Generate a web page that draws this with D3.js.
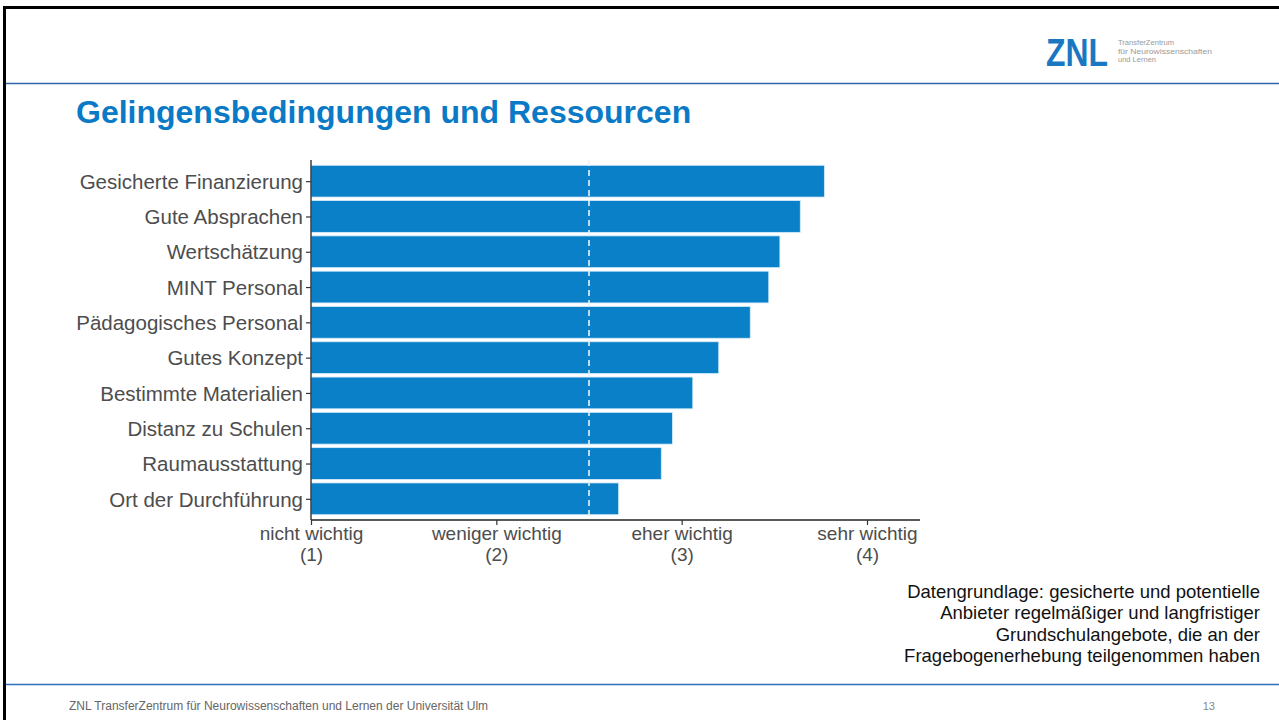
<!DOCTYPE html>
<html>
<head>
  <meta charset="utf-8">
  <title>Gelingensbedingungen</title>
  <script src="https://cdn.jsdelivr.net/npm/d3@7"></script>
  <style>
    body { margin: 0; background: #fff; }
    svg { display: block; font-family: "Liberation Sans", Arial, sans-serif; }
    .tick text { fill: #4d4d4d; }
  </style>
</head>
<body>
  <div id="slide"></div>
  <script>
    // data
    const categories = ["Gesicherte Finanzierung", "Gute Absprachen", "Wertschätzung",
      "MINT Personal", "Pädagogisches Personal", "Gutes Konzept", "Bestimmte Materialien",
      "Distanz zu Schulen", "Raumausstattung", "Ort der Durchführung"];
    const means = [3.77, 3.64, 3.53, 3.47, 3.37, 3.20, 3.06, 2.95, 2.89, 2.66];
    const tickValues = [1, 2, 3, 4];
    const tickLabels = [["nicht wichtig", "(1)"], ["weniger wichtig", "(2)"],
      ["eher wichtig", "(3)"], ["sehr wichtig", "(4)"]];
    const midpoint = 2.5;
    const noteLines = ["Datengrundlage: gesicherte und potentielle",
      "Anbieter regelmäßiger und langfristiger",
      "Grundschulangebote, die an der",
      "Fragebogenerhebung teilgenommen haben"];

    const W = 1279, H = 720;
    const blue = "#0a80c9";
    const labelSize = 20.5;

    const svg = d3.select("#slide").append("svg")
      .attr("width", W).attr("height", H);

    // slide frame + rules
    svg.append("path")
      .attr("d", `M4.5,${H} V7.5 H${W + 5}`)
      .attr("fill", "none").attr("stroke", "#000").attr("stroke-width", 3);
    svg.append("line").attr("x1", 6).attr("x2", W).attr("y1", 83.5).attr("y2", 83.5)
      .attr("stroke", "#2f64a5").attr("stroke-width", 1.3);
    svg.append("line").attr("x1", 6).attr("x2", W).attr("y1", 684.5).attr("y2", 684.5)
      .attr("stroke", "#2f70b8").attr("stroke-width", 1.3);

    // logo
    svg.append("text").attr("x", 1046).attr("y", 66)
      .attr("font-size", 38).attr("font-weight", "bold").attr("fill", "#1a78c2")
      .attr("textLength", 62).attr("lengthAdjust", "spacingAndGlyphs").text("ZNL");
    [["TransferZentrum", 56], ["für Neurowissenschaften", 94], ["und Lernen", 38]].forEach((t, i) => {
      svg.append("text").attr("x", 1118).attr("y", 45 + i * 8.5)
        .attr("font-size", 7.5).attr("fill", "#9a9a9a")
        .attr("textLength", t[1]).attr("lengthAdjust", "spacingAndGlyphs").text(t[0]);
    });

    // title
    svg.append("text").attr("x", 76).attr("y", 123)
      .attr("font-size", 32).attr("font-weight", "bold").attr("fill", "#0a7ac6")
      .text("Gelingensbedingungen und Ressourcen");

    // chart
    const x = d3.scaleLinear().domain([1, 4]).range([311, 867]);
    const xEnd = 920;
    const y = d3.scalePoint().domain(categories).range([160, 520]).padding(0.6);
    const bh = y.step() * 0.9;

    const g = svg.append("g");

    g.selectAll("rect.bar")
      .data(categories)
      .join("rect")
      .attr("class", "bar")
      .attr("x", x(1))
      .attr("y", d => y(d) - bh / 2)
      .attr("width", (d, i) => x(means[i]) - x(1))
      .attr("height", bh)
      .attr("fill", blue)
      .attr("stroke", "#d4ebf8")
      .attr("stroke-width", 0.8);

    g.append("line")
      .attr("x1", x(midpoint)).attr("x2", x(midpoint))
      .attr("y1", 160).attr("y2", 520)
      .attr("stroke", "#e6f2fa").attr("stroke-width", 1.6)
      .attr("stroke-dasharray", "6,4");

    // y axis
    const yAxis = g.append("g")
      .attr("transform", `translate(${x(1)},0)`)
      .call(d3.axisLeft(y).tickSize(5).tickPadding(3));
    yAxis.select(".domain").attr("d", "M0,160V520").attr("stroke", "#222").attr("stroke-width", 1.3);
    yAxis.selectAll(".tick line").attr("stroke", "#333").attr("stroke-width", 1.2);
    yAxis.selectAll(".tick text")
      .attr("font-size", labelSize).attr("font-family", "Liberation Sans, Arial, sans-serif")
      .attr("dy", "0.35em");

    // x axis: two-line labels, each line its own text
    const xAxis = g.append("g")
      .attr("transform", "translate(0,520)")
      .call(d3.axisBottom(x).tickValues(tickValues).tickSize(5).tickFormat(""));
    xAxis.select(".domain").attr("d", `M${x(1)},0H${xEnd}`).attr("stroke", "#222").attr("stroke-width", 1.3);
    xAxis.selectAll(".tick line").attr("stroke", "#333").attr("stroke-width", 1.2);
    xAxis.selectAll(".tick text").remove();
    xAxis.selectAll(".tick").each(function(d, i) {
      const tick = d3.select(this);
      tickLabels[i].forEach((s, k) => {
        tick.append("text")
          .attr("x", 0).attr("y", 20 + k * 21)
          .attr("text-anchor", "middle")
          .attr("fill", "#4d4d4d")
          .attr("font-size", 19).attr("font-family", "Liberation Sans, Arial, sans-serif")
          .attr("textLength", k === 0 ? null : null)
          .text(s);
      });
    });

    // note
    noteLines.forEach((s, i) => {
      svg.append("text").attr("x", 1260).attr("y", 598 + i * 21.3)
        .attr("text-anchor", "end").attr("font-size", 18.5).attr("fill", "#111")
        .text(s);
    });

    // footer
    svg.append("text").attr("x", 69).attr("y", 710)
      .attr("font-size", 12).attr("fill", "#666")
      .text("ZNL TransferZentrum für Neurowissenschaften und Lernen der Universität Ulm");
    svg.append("text").attr("x", 1215).attr("y", 710).attr("text-anchor", "end")
      .attr("font-size", 11).attr("fill", "#888").text("13");
  </script>
</body>
</html>
